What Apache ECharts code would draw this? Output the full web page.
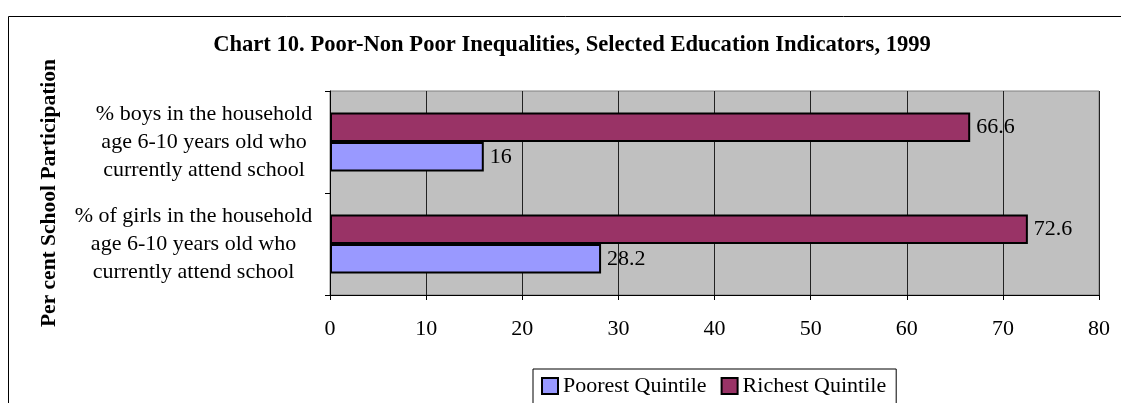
<!DOCTYPE html>
<html><head><meta charset="utf-8">
<script src="https://cdn.jsdelivr.net/npm/echarts@6/dist/echarts.min.js"></script>
<style>html,body{margin:0;padding:0;background:#fff}#c{width:1121px;height:403px}</style>
</head><body><div id="c"></div>
<script>
const categories = [
  "% of girls in the household\nage 6-10 years old who\ncurrently attend school",
  "% boys in the household\nage 6-10 years old who\ncurrently attend school"
];
const seriesNames = ["Poorest Quintile", "Richest Quintile"];
const poorest = [28.2, 16];
const richest = [72.6, 66.6];
const xTicks = { min: 0, max: 80, interval: 10 };

const font = "'Liberation Serif','Times New Roman',serif";
const catFontSize = 22;

// build rich styles so each label block is right-aligned while its lines are centred
const ctx = document.createElement('canvas').getContext('2d');
ctx.font = catFontSize + 'px ' + font;
const rich = {};
categories.forEach((c, i) => {
  const w = Math.max(...c.split('\n').map(l => ctx.measureText(l).width));
  rich['b' + i] = { width: Math.ceil(w) + 1, align: 'center', fontFamily: font, fontSize: catFontSize, color: '#000', lineHeight: 28 };
});

const chart = echarts.init(document.getElementById('c'));
chart.setOption({
  animation: false,
  backgroundColor: '#fff',
  graphic: [{
    type: 'rect', shape: { x: 8.5, y: 16.5, width: 1200, height: 500 },
    style: { fill: 'none', stroke: '#000', lineWidth: 1 }, silent: true, z: 0
  }],
  title: {
    text: 'Chart 10. Poor-Non Poor Inequalities, Selected Education Indicators, 1999',
    left: 567, top: 29, textAlign: 'center',
    textStyle: { fontFamily: font, fontWeight: 'bold', fontSize: 22.6, color: '#000' }
  },
  legend: {
    data: seriesNames,
    left: 533, top: 369,
    itemWidth: 16, itemHeight: 16, itemGap: 14,
    icon: 'rect',
    padding: [6, 10, 8, 8],
    borderColor: '#000', borderWidth: 1,
    textStyle: { fontFamily: font, fontSize: 22, color: '#000' },
    itemStyle: { borderColor: '#000', borderWidth: 2 }
  },
  grid: {
    left: 330, right: 22, top: 91, bottom: 108,
    show: true, backgroundColor: '#c0c0c0', borderColor: '#808080', borderWidth: 1
  },
  xAxis: {
    type: 'value', min: xTicks.min, max: xTicks.max, interval: xTicks.interval,
    axisLine: { show: true, lineStyle: { color: '#000', width: 1 } },
    axisTick: { show: true, length: 5, lineStyle: { color: '#000' } },
    axisLabel: { fontFamily: font, fontSize: 22, color: '#000', margin: 23 },
    splitLine: { show: true, lineStyle: { color: '#222', width: 1 } }
  },
  yAxis: {
    type: 'category', data: categories,
    name: 'Per cent School Participation', nameLocation: 'middle', nameGap: 270,
    nameRotate: 90,
    nameTextStyle: { fontFamily: font, fontWeight: 'bold', fontSize: 21.5, color: '#000' },
    axisLine: { show: true, lineStyle: { color: '#000', width: 1 } },
    axisTick: { show: true, length: 5, lineStyle: { color: '#000' } },
    axisLabel: {
      fontFamily: font, fontSize: catFontSize, color: '#000', margin: 17, align: 'right',
      formatter: (v, i) => v.split('\n').map(l => '{b' + i + '|' + l + '}').join('\n'),
      rich: rich
    },
    splitLine: { show: false }
  },
  series: [
    {
      name: seriesNames[1], type: 'bar', data: richest,
      barGap: '0%', barCategoryGap: '42%',
      itemStyle: { color: '#993366', borderColor: '#000', borderWidth: 2 },
      label: { show: true, position: 'right', distance: 6, fontFamily: font, fontSize: 22, color: '#000' }
    },
    {
      name: seriesNames[0], type: 'bar', data: poorest,
      barGap: '0%', barCategoryGap: '42%',
      itemStyle: { color: '#9999ff', borderColor: '#000', borderWidth: 2 },
      label: { show: true, position: 'right', distance: 6, fontFamily: font, fontSize: 22, color: '#000' }
    }
  ]
});
</script></body></html>
